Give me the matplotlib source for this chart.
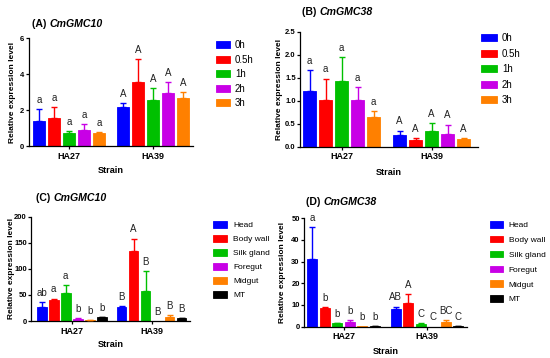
import matplotlib
matplotlib.use('Agg')
import matplotlib.pyplot as plt
import numpy as np

plt.rcParams['font.family'] = ['Liberation Sans', 'DejaVu Sans']

# Data
strains = ['HA27', 'HA39']

time_labels = ['0h', '0.5h', '1h', '2h', '3h']
time_colors = ['#0000FF', '#FF0000', '#00C000', '#C800E6', '#FF8000']

a_mean = [[1.39, 1.54, 0.70, 0.89, 0.74], [2.17, 3.57, 2.56, 2.93, 2.67]]
a_sd = [[0.68, 0.65, 0.15, 0.31, 0.02], [0.20, 1.28, 0.68, 0.64, 0.33]]
a_letters = [['a', 'a', 'a', 'a', 'a'], ['A', 'A', 'A', 'A', 'A']]

b_mean = [[1.21, 1.01, 1.43, 1.02, 0.645], [0.25, 0.145, 0.35, 0.275, 0.167]]
b_sd = [[0.46, 0.47, 0.51, 0.28, 0.13], [0.10, 0.035, 0.16, 0.205, 0.023]]
b_letters = [['a', 'a', 'a', 'a', 'a'], ['A', 'A', 'A', 'A', 'A']]

tissue_labels = ['Head', 'Body wall', 'Silk gland', 'Foregut', 'Midgut', 'MT']
tissue_colors = ['#0000FF', '#FF0000', '#00C000', '#C800E6', '#FF8000', '#000000']

c_mean = [[26.3, 39.7, 54.5, 4.5, 2.0, 7.0], [27.6, 135.0, 57.0, 0.0, 8.3, 5.0]]
c_sd = [[9.6, 3.3, 14.5, 0.5, 0.2, 0.7], [0.6, 23.0, 39.0, 0.0, 3.2, 0.8]]
c_letters = [['ab', 'a', 'a', 'b', 'b', 'b'], ['B', 'A', 'B', 'B', 'B', 'B']]

d_mean = [[31.1, 8.5, 1.4, 2.0, 0.05, 0.3], [8.2, 10.8, 1.1, 0.0, 2.3, 0.15]]
d_sd = [[14.7, 0.6, 0.1, 0.9, 0.0, 0.05], [1.0, 4.1, 0.4, 0.0, 0.8, 0.02]]
d_letters = [['a', 'b', 'b', 'b', 'b', 'b'], ['AB', 'A', 'C', 'C', 'BC', 'C']]

W, H = 550, 358
fig = plt.figure(figsize=(5.5, 3.58), dpi=100)


def px_axes(x0, x1, ytop, ybot):
    return fig.add_axes([x0 / W, 1 - ybot / H, (x1 - x0) / W, (ybot - ytop) / H])


def panel(ax, means, sds, letters, labels, colors, slot, width, xlim, yticks, yfmt,
          tag, gene, title_xy, leg_xy, leg_font, leg_spacing, handle_len, handle_h,
          text_pad, xlabel_pad, ylabel_x):
    n = len(labels)
    centers = np.arange(len(strains))
    bars = []
    for i in range(n):
        xs = centers + (i - (n - 1) / 2) * slot
        vals = [means[g][i] for g in range(len(strains))]
        errs = [sds[g][i] for g in range(len(strains))]
        b = ax.bar(xs, vals, width=width, color=colors[i], edgecolor=colors[i],
                   linewidth=0.6, label=labels[i], zorder=2)
        bars.append(b)
        for g in range(len(strains)):
            if vals[g] > 0 and errs[g] > 0:
                ax.errorbar(xs[g], vals[g], yerr=[[0], [errs[g]]], fmt='none',
                            ecolor=colors[i], elinewidth=1.0, capsize=2.4,
                            capthick=1.0, zorder=3)
            ax.annotate(letters[g][i], (xs[g], vals[g] + errs[g]), xytext=(0, 3),
                        textcoords='offset points', ha='center', va='bottom',
                        fontsize=7, color='#222222')
    ax.set_xlim(*xlim)
    ax.set_ylim(yticks[0], yticks[-1])
    ax.set_yticks(yticks)
    ax.set_yticklabels([yfmt.format(v) for v in yticks])
    ax.set_xticks(centers)
    ax.set_xticklabels(strains)
    for s in ['top', 'right']:
        ax.spines[s].set_visible(False)
    for s in ['left', 'bottom']:
        ax.spines[s].set_linewidth(0.9)
    ax.tick_params(axis='both', length=2.5, width=0.9)
    ax.tick_params(axis='y', labelsize=5.5, pad=0.5)
    ax.tick_params(axis='x', labelsize=6.5, pad=1.5)
    for t in ax.get_xticklabels() + ax.get_yticklabels():
        t.set_fontweight('bold')
    ax.set_ylabel('Relative expression level', fontsize=6, fontweight='bold')
    ax.yaxis.set_label_coords(ylabel_x / W, 0.5)
    ax.yaxis.label.set_transform(matplotlib.transforms.blended_transform_factory(
        fig.transFigure, ax.transAxes))
    ax.set_xlabel('Strain', fontsize=6.6, fontweight='bold', labelpad=xlabel_pad)

    t1 = fig.text(title_xy[0] / W, 1 - title_xy[1] / H, tag + ' ', fontsize=7.6,
                  fontweight='bold', va='center', ha='left')
    ax.annotate(gene, xy=(1, 0), xycoords=t1, va='bottom', ha='left',
                fontsize=7.6, fontweight='bold', style='italic')

    ax.legend(handles=bars, loc='upper left', bbox_to_anchor=(leg_xy[0] / W, 1 - leg_xy[1] / H),
              bbox_transform=fig.transFigure, frameon=False, fontsize=leg_font,
              borderpad=0, borderaxespad=0, handlelength=handle_len, handleheight=handle_h,
              handletextpad=text_pad, labelspacing=leg_spacing)


axA = px_axes(28.5, 193, 38.3, 146)
panel(axA, a_mean, a_sd, a_letters, time_labels, time_colors,
      0.179, 0.139, (-0.485, 1.476), [0, 2, 4, 6], '{:.0f}',
      '(A)', 'CmGMC10', (32, 24), (216, 40), 7, 0.47, 1.45, 0.72, 0.5, 4, 16)

axB = px_axes(300, 478, 31.7, 146.7)
panel(axB, b_mean, b_sd, b_letters, time_labels, time_colors,
      0.178, 0.139, (-0.463, 1.515), [0, 0.5, 1.0, 1.5, 2.0, 2.5], '{:.1f}',
      '(B)', 'CmGMC38', (302, 12), (481, 33), 7, 0.57, 1.65, 0.72, 0.5, 4.5, 283)

axC = px_axes(31, 190, 216.7, 321)
panel(axC, c_mean, c_sd, c_letters, tissue_labels, tissue_colors,
      0.15, 0.12, (-0.51, 1.48), [0, 50, 100, 150, 200], '{:.0f}',
      '(C)', 'CmGMC10', (36, 198), (213, 221), 6, 0.7, 1.7, 0.84, 0.7, 3.5, 15)

axD = px_axes(304, 467, 218.3, 326.5)
panel(axD, d_mean, d_sd, d_letters, tissue_labels, tissue_colors,
      0.15, 0.12, (-0.475, 1.48), [0, 10, 20, 30, 40, 50], '{:.0f}',
      '(D)', 'CmGMC38', (306, 202), (490, 221), 6, 0.8, 1.55, 0.84, 0.7, 4.5, 286)

fig.savefig('out.png', dpi=100)
